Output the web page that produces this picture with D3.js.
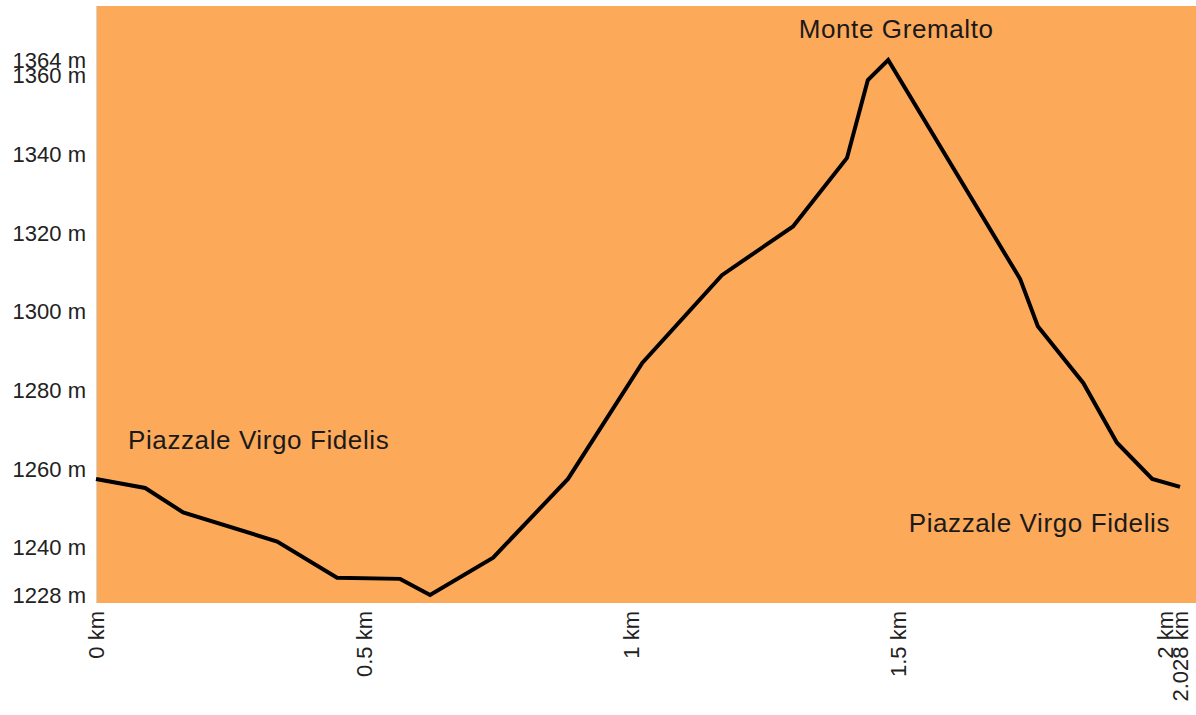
<!DOCTYPE html>
<html>
<head>
<meta charset="utf-8">
<script src="https://cdnjs.cloudflare.com/ajax/libs/d3/7.8.5/d3.min.js"></script>
<style>
    body { margin: 0; background: #fff; }
    text { font-family: "Liberation Sans", Arial, sans-serif; }
</style>
</head>
<body>
<div id="chart"></div>
<script>
// elevation profile: distance (km) and altitude (m)
var distances = [0, 0.092, 0.163, 0.339, 0.451, 0.569, 0.625, 0.743, 0.883, 1.022,
    1.171, 1.304, 1.405, 1.444, 1.482, 1.729, 1.762, 1.847, 1.910, 1.976, 2.028];
var altitudes = [1257.5, 1255.2, 1249, 1241.6, 1232.4, 1232.1, 1228, 1237.5, 1257.5, 1287,
    1309.3, 1321.7, 1339.1, 1358.9, 1364, 1308.3, 1296.3, 1281.9, 1266.7, 1257.5, 1255.5];

var xTicks = [0, 0.5, 1, 1.5, 2, 2.028];
var xTickLabels = ["0 km", "0.5 km", "1 km", "1.5 km", "2 km", "2.028 km"];
var yTicks = [1228, 1240, 1260, 1280, 1300, 1320, 1340, 1360, 1364];

// waypoint labels, tied to a point of the profile
var waypointNames = ["Piazzale Virgo Fidelis", "Monte Gremalto", "Piazzale Virgo Fidelis"];
var waypointIndex = [0, 14, 20];

var width = 1196, height = 715;
var plot = { left: 96, right: 1196, top: 6, bottom: 603 };

var svg = d3.select("#chart")
    .append("svg")
    .attr("width", width)
    .attr("height", height);

var x = d3.scaleLinear()
    .domain([0, 2.028])
    .range([96, 1180]);

var y = d3.scaleLinear()
    .domain([1228, 1364])
    .range([595, 60]);

// background of the plot area
svg.append("rect")
    .attr("x", plot.left)
    .attr("y", plot.top)
    .attr("width", plot.right - plot.left)
    .attr("height", plot.bottom - plot.top)
    .style("fill", "#fca95a");

svg.append("line")
    .attr("x1", plot.left + 0.5).attr("x2", plot.left + 0.5)
    .attr("y1", plot.top).attr("y2", plot.bottom)
    .style("stroke", "#d8d4cc")
    .style("stroke-width", 1);

var points = distances.map(function(d, i) {
    return { km: d, m: altitudes[i] };
});

var line = d3.line()
    .x(function(d) { return x(d.km); })
    .y(function(d) { return y(d.m); });

svg.append("path")
    .datum(points)
    .attr("d", line)
    .style("fill", "none")
    .style("stroke", "#000")
    .style("stroke-width", 4)
    .style("stroke-linejoin", "miter");

// y axis
var yAxis = svg.append("g")
    .attr("transform", "translate(" + plot.left + ",0)")
    .call(d3.axisLeft(y)
        .tickValues(yTicks)
        .tickSize(0)
        .tickPadding(10)
        .tickFormat(function(d) { return d + " m"; }));

yAxis.select(".domain").remove();
yAxis.selectAll("text")
    .style("font-size", "22px")
    .style("fill", "#222");

// x axis, labels turned upright
var xAxis = svg.append("g")
    .attr("transform", "translate(0," + plot.bottom + ")")
    .call(d3.axisBottom(x)
        .tickValues(xTicks)
        .tickSize(0)
        .tickFormat(function(d, i) { return xTickLabels[i]; }));

xAxis.select(".domain").remove();
xAxis.selectAll("text")
    .attr("transform", "rotate(-90)")
    .attr("x", -8)
    .attr("y", 0)
    .attr("dy", "0.36em")
    .style("text-anchor", "end")
    .style("font-size", "22px")
    .style("fill", "#222");

// waypoint names
var offsets = [[32, -30], [8, -22], [-10, 45]];
var anchors = ["start", "middle", "end"];

svg.selectAll(".waypoint")
    .data(waypointNames)
    .enter().append("text")
    .attr("class", "waypoint")
    .attr("x", function(d, i) { return x(distances[waypointIndex[i]]) + offsets[i][0]; })
    .attr("y", function(d, i) { return y(altitudes[waypointIndex[i]]) + offsets[i][1]; })
    .style("text-anchor", function(d, i) { return anchors[i]; })
    .style("font-size", "26px")
    .style("letter-spacing", "0.6px")
    .style("fill", "#1a1a1a")
    .text(function(d) { return d; });
</script>
</body>
</html>
